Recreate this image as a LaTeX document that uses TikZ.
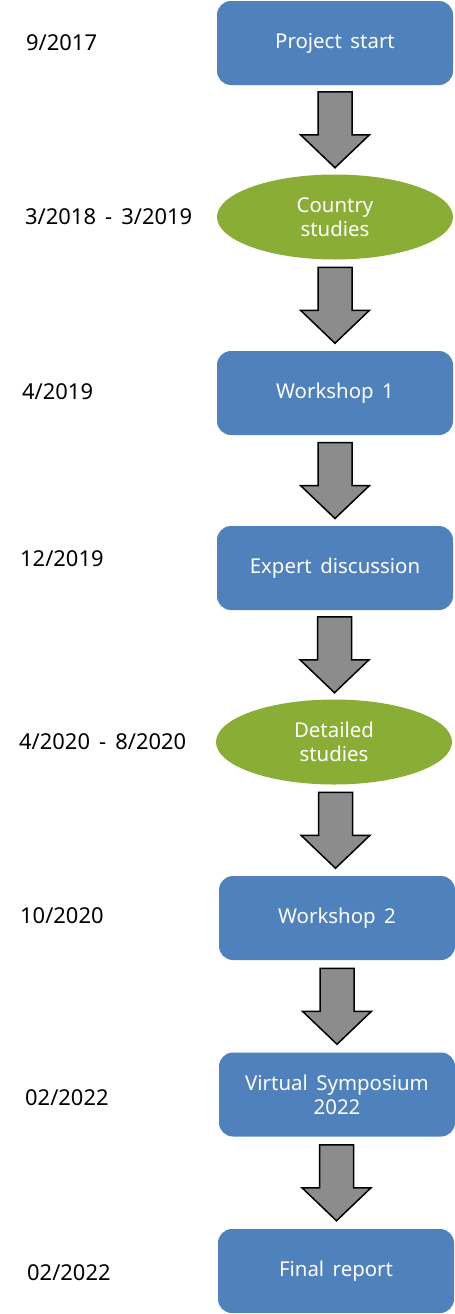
\documentclass[tikz,border=0pt]{standalone}
\usepackage{fontspec}
\setmainfont{Noto Sans}[WordSpace=1.6]
\usepackage{tikz}
\usetikzlibrary{shapes.geometric, calc}

\definecolor{boxblue}{HTML}{4F81BD}
\definecolor{studygreen}{HTML}{8AAE35}
\definecolor{arrowgray}{HTML}{8C8C8C}

\tikzset{
  stagebox/.style={rectangle, rounded corners=14bp, fill=boxblue, draw=none,
    minimum width=236bp, minimum height=84bp, text=white, align=center,
    font=\fontsize{20.5}{24}\selectfont},
  studyoval/.style={ellipse, fill=studygreen, draw=none, inner sep=0pt,
    minimum width=236bp, minimum height=85bp, text=white, align=center,
    font=\fontsize{20.5}{24}\selectfont},
  datelabel/.style={anchor=west, inner sep=0pt, text=black,
    font=\fontsize{22}{26}\selectfont},
  blockarrow/.style={draw=black, fill=arrowgray, line width=1.5bp, line join=miter},
}

\begin{document}
\begin{tikzpicture}
\useasboundingbox (0bp,0bp) rectangle (455bp,-1314bp);
%%
\node (node_start) at (335bp,-43bp) [stagebox] {Project start};
  \node (node_country) at (335bp,-217bp) [studyoval] {Country\\studies};
  \node (node_ws1) at (335bp,-393bp) [stagebox] {Workshop 1};
  \node (node_expert) at (335bp,-568bp) [stagebox] {Expert discussion};
  \node (node_detailed) at (334bp,-742bp) [studyoval] {Detailed\\studies};
  \node (node_ws2) at (337bp,-918bp) [stagebox] {Workshop 2};
  \node (node_symp) at (337bp,-1094.5bp) [stagebox] {Virtual Symposium\\2022};
  \node (node_final) at (336bp,-1271bp) [stagebox] {Final report};
  \node (date_start) at (26bp,-43bp) [datelabel] {9/2017};
  \node (date_country) at (25bp,-217bp) [datelabel] {3/2018 - 3/2019};
  \node (date_ws1) at (22bp,-392bp) [datelabel] {4/2019};
  \node (date_expert) at (20bp,-559bp) [datelabel] {12/2019};
  \node (date_detailed) at (19bp,-742bp) [datelabel] {4/2020 - 8/2020};
  \node (date_ws2) at (20bp,-916bp) [datelabel] {10/2020};
  \node (date_symp) at (25bp,-1098bp) [datelabel] {02/2022};
  \node (date_final) at (27bp,-1273bp) [datelabel] {02/2022};
  \foreach \from/\to in {node_start/node_country, node_country/node_ws1,
      node_ws1/node_expert, node_expert/node_detailed, node_detailed/node_ws2,
      node_ws2/node_symp, node_symp/node_final}
    \draw [blockarrow] ($(\from.south)!0.5!(\to.north)+(-17bp,38bp)$)
      -- ++(34bp,0) -- ++(0,-43bp) -- ++(17.5bp,0) -- ++(-34.5bp,-33bp)
      -- ++(-34.5bp,33bp) -- ++(17.5bp,0) -- cycle;
%
\end{tikzpicture}
\end{document}
